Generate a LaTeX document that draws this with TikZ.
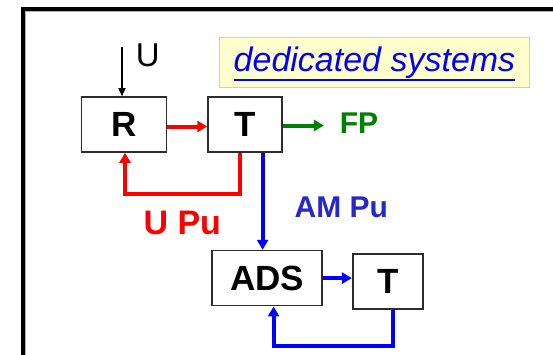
\documentclass[tikz,border=0pt]{standalone}
\usepackage{fontspec}
\setmainfont{Liberation Sans}
\usepackage{tikz}
\usetikzlibrary{arrows.meta, positioning, calc}
\definecolor{myred}{RGB}{255,0,0}
\definecolor{myblue}{RGB}{0,0,255}
\definecolor{mygreen}{RGB}{0,128,0}
\definecolor{myslate}{RGB}{40,40,200}
\definecolor{mydark}{RGB}{45,45,45}
\definecolor{hdryellow}{RGB}{255,255,206}
\definecolor{hdrgray}{RGB}{205,205,195}
\tikzset{
  block/.style={rectangle, draw=mydark, fill=white, minimum height=55pt,
    font=\fontsize{35}{40}\selectfont\bfseries, line width=1.6pt},
  titlebox/.style={rectangle, draw=hdrgray, fill=hdryellow,
    minimum width=310pt, minimum height=50pt, line width=0.8pt},
  titletext/.style={inner sep=0pt, text=myblue,
    font=\fontsize{34}{40}\selectfont\itshape},
  titleline/.style={line width=2.5pt, color=myblue},
  lbl/.style={inner sep=0pt, font=\fontsize{30}{36}\selectfont\bfseries},
  biglbl/.style={inner sep=0pt, font=\fontsize{34}{40}\selectfont\bfseries},
  ulbl/.style={inner sep=0pt, font=\fontsize{33}{38}\selectfont},
  frame/.style={line width=3.5pt, color=black},
  blackarrow/.style={-{Triangle[length=8pt,width=7pt]}, line width=1.5pt, color=black},
  redarrow/.style={-{Triangle[length=10pt,width=11pt]}, line width=4pt, color=myred},
  greenarrow/.style={-{Triangle[length=10pt,width=11pt]}, line width=4pt, color=mygreen},
  bluearrow/.style={-{Triangle[length=10pt,width=11pt]}, line width=4pt, color=myblue}
}
\begin{document}
\begin{tikzpicture}[x=1pt, y=-1pt]
  \useasboundingbox (0,0) rectangle (553,354);
  \draw[frame] (23,370) |- (570,9);
  \draw[line width=1pt, color=black!30] (25.8,370) |- (570,11.8);

  \node[titlebox] (title) at (374.5,62.5) {};
  \node[titletext] (titletxt) at (title.center) {dedicated systems};
  \draw[titleline] ([yshift=-1.5pt]titletxt.south west) -- ([yshift=-1.5pt]titletxt.south east);

  \node[block, minimum width=85pt] (R) at (124,124.5) {R};
  \node[block, minimum width=74pt, right=40pt of R] (T) {T};
  \node[block, minimum width=110pt, below=97pt of T, xshift=22pt] (ADS) {ADS};
  \node[block, minimum width=70pt, right=29pt of ADS, yshift=-3.5pt] (T2) {T};
  \coordinate (uin) at ($(R.north)+(-2,-49)$);
  \coordinate (fpout) at ($(T.east)+(41,1)$);

  \draw[blackarrow] (uin) -- node[pos=0.16, right=13pt, ulbl]{U} ([xshift=-2pt]R.north);
  \draw[redarrow] ([yshift=-2pt]R.east) -- ([yshift=-2pt]R.east -| T.west);
  \draw[greenarrow] (T.east |- fpout) -- (fpout)
    node[right=14pt, yshift=2pt, lbl, text=mygreen]{FP};
  \draw[redarrow] ([xshift=-5.5pt]T.south) -- ++(0,41)
    -| node[pos=0.25, below=15pt, biglbl, text=myred]{U Pu} ([xshift=1pt]R.south);
  \draw[bluearrow] ([xshift=17.5pt]T.south)
    -- node[pos=0.56, right=30pt, lbl, text=myslate]{AM Pu} ([xshift=17.5pt]T.south |- ADS.north);
  \draw[bluearrow] (ADS.east) -- (ADS.east -| T2.west);
  \draw[bluearrow] ([xshift=5.5pt]T2.south) -- ++(0,36) -| ([xshift=6.5pt]ADS.south);
\end{tikzpicture}
\end{document}
